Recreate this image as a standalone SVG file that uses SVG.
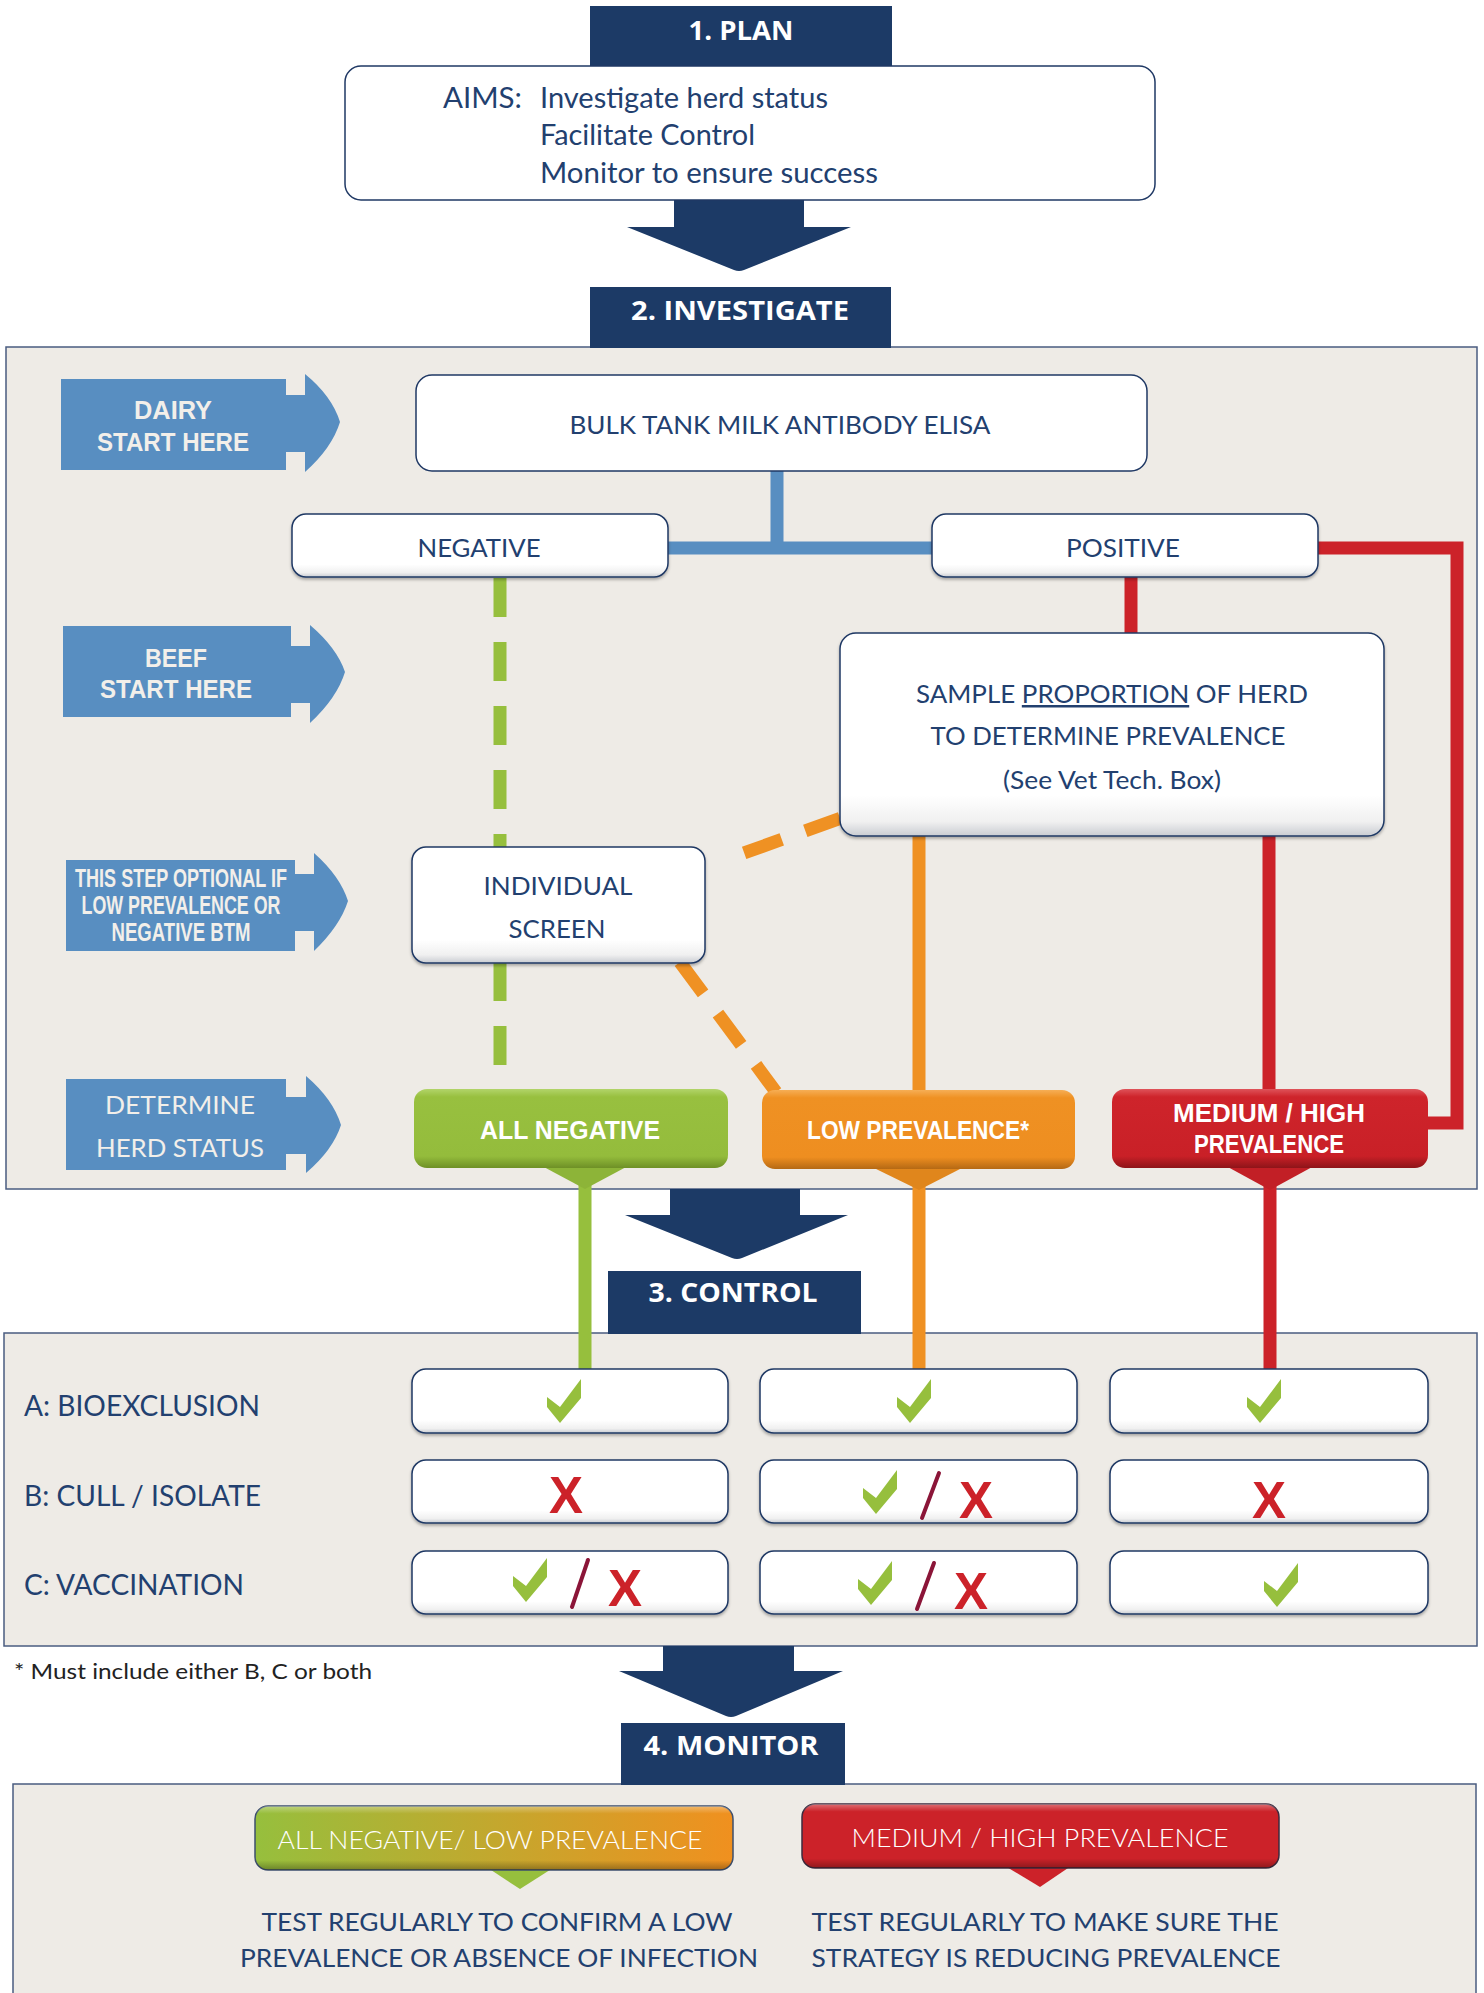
<svg xmlns="http://www.w3.org/2000/svg" width="1484" height="1993" viewBox="0 0 1484 1993">
<defs>
<style>
.hdr{fill:#1C3A66}
.hdrT{font-family:"Open Sans",Lato,sans-serif;font-weight:700;font-size:26px;fill:#fff;text-anchor:middle}
.panel{fill:#EEEBE6;stroke:#4A5C80;stroke-width:1.5}
.box{fill:url(#gw);stroke:#1F3864;stroke-width:1.5;filter:url(#sh)}
.t{font-family:Lato,"Open Sans",sans-serif;font-weight:400;fill:#22406F;text-anchor:middle;font-size:25px}
.ts{font-family:Lato,"Open Sans",sans-serif;font-weight:400;fill:#22406F;font-size:28px}
.tb{font-family:"Liberation Sans",Arial,sans-serif;font-weight:700;fill:#F2EFEA;text-anchor:middle;font-size:25px}
.tw{font-family:"Liberation Sans",Arial,sans-serif;font-weight:700;fill:#FFFFFF;text-anchor:middle;font-size:25px}
.tl{font-family:Lato,"Open Sans",sans-serif;font-weight:400;fill:#F2EFEA;text-anchor:middle;font-size:25px}
.tm{font-family:Lato,"Open Sans",sans-serif;font-weight:300;fill:#FFFFFF;text-anchor:middle;font-size:25px}
.barr{fill:#588EC1}
.navy{fill:#1C3A66}
.chk{fill:#96BF3D}
.xm{font-family:"Liberation Sans",Arial,sans-serif;font-weight:700;font-size:51px;fill:#CC2229;text-anchor:middle}
.sl{stroke:#8B1538;stroke-width:4;stroke-linecap:round}
</style>
<linearGradient id="gw" x1="0" y1="0" x2="0" y2="1">
<stop offset="0" stop-color="#FFFFFF"/><stop offset="0.8" stop-color="#FFFFFF"/><stop offset="0.93" stop-color="#F0F0F0"/><stop offset="1" stop-color="#C9CCD2"/>
</linearGradient>
<linearGradient id="gg" x1="0" y1="0" x2="0" y2="1">
<stop offset="0" stop-color="#B2D46A"/><stop offset="0.1" stop-color="#98C03F"/><stop offset="0.85" stop-color="#94BC3C"/><stop offset="1" stop-color="#6E9026"/>
</linearGradient>
<linearGradient id="go" x1="0" y1="0" x2="0" y2="1">
<stop offset="0" stop-color="#F6AE55"/><stop offset="0.1" stop-color="#EF9123"/><stop offset="0.85" stop-color="#EE8E20"/><stop offset="1" stop-color="#B56914"/>
</linearGradient>
<linearGradient id="gr" x1="0" y1="0" x2="0" y2="1">
<stop offset="0" stop-color="#DF535A"/><stop offset="0.1" stop-color="#CE242B"/><stop offset="0.85" stop-color="#C92027"/><stop offset="1" stop-color="#8E1419"/>
</linearGradient>
<linearGradient id="gmix" x1="0" y1="0" x2="1" y2="0">
<stop offset="0" stop-color="#96BF3D"/><stop offset="1" stop-color="#F0901F"/>
</linearGradient>
<linearGradient id="gshine" x1="0" y1="0" x2="0" y2="1">
<stop offset="0" stop-color="#FFFFFF" stop-opacity="0.35"/><stop offset="0.12" stop-color="#FFFFFF" stop-opacity="0"/><stop offset="0.85" stop-color="#000000" stop-opacity="0"/><stop offset="1" stop-color="#000000" stop-opacity="0.3"/>
</linearGradient>
<filter id="sh" x="-5%" y="-10%" width="110%" height="130%">
<feDropShadow dx="0" dy="2" stdDeviation="1.5" flood-color="#000" flood-opacity="0.3"/>
</filter>
<path id="chkP" d="M34,0 L34,19 L13,44 L0,28 L0,18 L13,28 Z"/>
</defs>

<rect width="1484" height="1993" fill="#FFFFFF"/>

<!-- panels -->
<rect class="panel" x="6" y="347" width="1471" height="842"/>
<rect class="panel" x="4" y="1333" width="1473" height="313"/>
<rect class="panel" x="13" y="1784" width="1463" height="230"/>

<!-- big navy arrows -->
<g id="arrow1"><path class="navy" d="M674,190 H804 V227 H851 L744,270 Q739,272 734,270 L627,227 H674 Z"/></g>
<g id="arrow2"><path class="navy" d="M670,1189 H800 V1215 H848 L742,1258 Q737,1260 732,1258 L625,1215 H670 Z"/></g>
<g id="arrow3"><path class="navy" d="M663,1646 H794 V1671 H843 L736,1716 Q731,1718 726,1716 L619,1671 H663 Z"/></g>

<!-- headers -->
<g id="plan">
<rect class="hdr" x="590" y="6" width="302" height="60"/>
<text class="hdrT" x="741" y="40" textLength="105" lengthAdjust="spacingAndGlyphs">1. PLAN</text>
</g>
<g id="aims">
<rect x="345" y="66" width="810" height="134" rx="16" fill="#FFFFFF" stroke="#1F3864" stroke-width="1.5"/>
<text class="ts" x="443" y="108" font-size="29" textLength="79" lengthAdjust="spacingAndGlyphs">AIMS:</text>
<text class="ts" x="540" y="108" font-size="29" textLength="288" lengthAdjust="spacingAndGlyphs">Investigate herd status</text>
<text class="ts" x="540" y="145" font-size="29" textLength="215" lengthAdjust="spacingAndGlyphs">Facilitate Control</text>
<text class="ts" x="540" y="183" font-size="29" textLength="338" lengthAdjust="spacingAndGlyphs">Monitor to ensure success</text>
</g>
<g id="investigate">
<rect class="hdr" x="590" y="287" width="301" height="61"/>
<text class="hdrT" x="740" y="320" textLength="218" lengthAdjust="spacingAndGlyphs">2. INVESTIGATE</text>
</g>
<g id="control">
<rect class="hdr" x="608" y="1271" width="253" height="63"/>
<text class="hdrT" x="733" y="1302" textLength="169" lengthAdjust="spacingAndGlyphs">3. CONTROL</text>
</g>
<g id="monitor">
<rect class="hdr" x="621" y="1723" width="224" height="62"/>
<text class="hdrT" x="731" y="1755" textLength="175" lengthAdjust="spacingAndGlyphs">4. MONITOR</text>
</g>

<!-- connectors -->
<g id="connectors" fill="none">
<path d="M777,470 V548 M668,548 H932" stroke="#588EC1" stroke-width="13"/>
<path d="M1318,548 H1457 V1123 H1428" stroke="#CC2229" stroke-width="13"/>
<path d="M1131,577 V634" stroke="#CC2229" stroke-width="13"/>
<path d="M1269,836 V1090" stroke="#CC2229" stroke-width="13"/>
<path d="M1270,1168 V1370" stroke="#CC2229" stroke-width="13"/>
<path d="M919,836 V1091" stroke="#EF9123" stroke-width="13"/>
<path d="M919,1168 V1370" stroke="#EF9123" stroke-width="13"/>
<path d="M585,1168 V1370" stroke="#96BF3D" stroke-width="13"/>
<path d="M500,578 V1066" stroke="#96BF3D" stroke-width="13" stroke-dasharray="39 25"/>
<path d="M858,812 L705,867" stroke="#EF9123" stroke-width="13" stroke-dasharray="0 19 37 25 40 60"/>
<path d="M668,946 L776,1092" stroke="#EF9123" stroke-width="13" stroke-dasharray="0 20 39 25 39 25 45"/>
</g>

<!-- blue side arrows -->
<g id="dairy">
<path class="barr" d="M61,379 H286 V395 H305 V374 Q332,396 340,422 Q332,448 305,472 V452 H286 V470 H61 Z"/>
<text class="tb" x="173" y="419" textLength="78" lengthAdjust="spacingAndGlyphs">DAIRY</text>
<text class="tb" x="173" y="451" textLength="152" lengthAdjust="spacingAndGlyphs">START HERE</text>
</g>
<g id="beef">
<path class="barr" d="M63,626 H291 V646 H310 V625 Q337,648 345,672 Q337,698 310,723 V703 H291 V717 H63 Z"/>
<text class="tb" x="176" y="667" textLength="62" lengthAdjust="spacingAndGlyphs">BEEF</text>
<text class="tb" x="176" y="698" textLength="152" lengthAdjust="spacingAndGlyphs">START HERE</text>
</g>
<g id="optional">
<path class="barr" d="M66,860 H295 V874 H314 V853 Q340,876 348,901 Q340,926 314,951 V931 H295 V951 H66 Z"/>
<text class="tb" x="181" y="887" font-size="18" textLength="212" lengthAdjust="spacingAndGlyphs">THIS STEP OPTIONAL IF</text>
<text class="tb" x="181" y="914" font-size="18" textLength="199" lengthAdjust="spacingAndGlyphs">LOW PREVALENCE OR</text>
<text class="tb" x="181" y="941" font-size="18" textLength="139" lengthAdjust="spacingAndGlyphs">NEGATIVE BTM</text>
</g>
<g id="determine">
<path class="barr" d="M66,1079 H286 V1097 H306 V1076 Q333,1099 341,1125 Q333,1150 306,1173 V1154 H286 V1170 H66 Z"/>
<text class="tl" x="180" y="1114" textLength="150" lengthAdjust="spacingAndGlyphs">DETERMINE</text>
<text class="tl" x="180" y="1157" textLength="168" lengthAdjust="spacingAndGlyphs">HERD STATUS</text>
</g>

<!-- investigate nodes -->
<g id="bulk">
<rect x="416" y="375" width="731" height="96" rx="16" fill="#FFFFFF" stroke="#1F3864" stroke-width="1.5"/>
<text class="t" x="780" y="434" textLength="421" lengthAdjust="spacingAndGlyphs">BULK TANK MILK ANTIBODY ELISA</text>
</g>
<g id="negative">
<rect class="box" x="292" y="514" width="376" height="63" rx="14"/>
<text class="t" x="479" y="557" textLength="123" lengthAdjust="spacingAndGlyphs">NEGATIVE</text>
</g>
<g id="positive">
<rect class="box" x="932" y="514" width="386" height="63" rx="14"/>
<text class="t" x="1123" y="557" textLength="114" lengthAdjust="spacingAndGlyphs">POSITIVE</text>
</g>
<g id="sample">
<rect class="box" x="840" y="633" width="544" height="203" rx="16"/>
<text class="t" x="1112" y="703" textLength="392" lengthAdjust="spacingAndGlyphs">SAMPLE <tspan style="text-decoration:underline">PROPORTION</tspan> OF HERD</text>
<text class="t" x="1108" y="745" textLength="355" lengthAdjust="spacingAndGlyphs">TO DETERMINE PREVALENCE</text>
<text class="t" x="1112" y="789" textLength="218" lengthAdjust="spacingAndGlyphs">(See Vet Tech. Box)</text>
</g>
<g id="individual">
<rect class="box" x="412" y="847" width="293" height="116" rx="14"/>
<text class="t" x="558" y="895" textLength="149" lengthAdjust="spacingAndGlyphs">INDIVIDUAL</text>
<text class="t" x="557" y="938" textLength="97" lengthAdjust="spacingAndGlyphs">SCREEN</text>
</g>
<g id="allneg">
<path d="M542,1166 H628 L585,1189 Z" fill="#8DB438"/>
<rect x="414" y="1089" width="314" height="79" rx="13" fill="url(#gg)"/>
<text class="tw" x="570" y="1139" textLength="180" lengthAdjust="spacingAndGlyphs">ALL NEGATIVE</text>
</g>
<g id="lowprev">
<path d="M874,1168 H962 L919,1190 Z" fill="#E0861C"/>
<rect x="762" y="1090" width="313" height="79" rx="13" fill="url(#go)"/>
<text class="tw" x="918" y="1139" font-size="22" textLength="222" lengthAdjust="spacingAndGlyphs">LOW PREVALENCE*</text>
</g>
<g id="medhigh">
<path d="M1226,1166 H1314 L1270,1190 Z" fill="#C21F26"/>
<rect x="1112" y="1089" width="316" height="79" rx="13" fill="url(#gr)"/>
<text class="tw" x="1269" y="1122" font-size="23" textLength="192" lengthAdjust="spacingAndGlyphs">MEDIUM / HIGH</text>
<text class="tw" x="1269" y="1153" font-size="23" textLength="150" lengthAdjust="spacingAndGlyphs">PREVALENCE</text>
</g>

<!-- control rows -->
<g id="labels">
<text class="ts" x="24" y="1416" textLength="236" lengthAdjust="spacingAndGlyphs">A: BIOEXCLUSION</text>
<text class="ts" x="24" y="1506" textLength="237" lengthAdjust="spacingAndGlyphs">B: CULL / ISOLATE</text>
<text class="ts" x="24" y="1595" textLength="220" lengthAdjust="spacingAndGlyphs">C: VACCINATION</text>
</g>
<g id="a1"><rect class="box" x="412" y="1369" width="316" height="64" rx="14"/><use href="#chkP" class="chk" x="547" y="1379"/></g>
<g id="a2"><rect class="box" x="760" y="1369" width="317" height="64" rx="14"/><use href="#chkP" class="chk" x="897" y="1379"/></g>
<g id="a3"><rect class="box" x="1110" y="1369" width="318" height="64" rx="14"/><use href="#chkP" class="chk" x="1247" y="1379"/></g>
<g id="b1"><rect class="box" x="412" y="1460" width="316" height="63" rx="14"/><text class="xm" x="566" y="1513">X</text></g>
<g id="b2"><rect class="box" x="760" y="1460" width="317" height="63" rx="14"/><use href="#chkP" class="chk" x="863" y="1470"/><line class="sl" x1="939" y1="1473" x2="922" y2="1518"/><text class="xm" x="976" y="1518">X</text></g>
<g id="b3"><rect class="box" x="1110" y="1460" width="318" height="63" rx="14"/><text class="xm" x="1269" y="1518">X</text></g>
<g id="c1"><rect class="box" x="412" y="1551" width="316" height="63" rx="14"/><use href="#chkP" class="chk" x="513" y="1558"/><line class="sl" x1="588" y1="1560" x2="572" y2="1607"/><text class="xm" x="625" y="1606">X</text></g>
<g id="c2"><rect class="box" x="760" y="1551" width="317" height="63" rx="14"/><use href="#chkP" class="chk" x="858" y="1561"/><line class="sl" x1="934" y1="1563" x2="917" y2="1609"/><text class="xm" x="971" y="1609">X</text></g>
<g id="c3"><rect class="box" x="1110" y="1551" width="318" height="63" rx="14"/><use href="#chkP" class="chk" x="1264" y="1563"/></g>

<g id="footnote">
<text x="14" y="1679" font-family="Lato, 'Open Sans', sans-serif" font-weight="400" font-size="21" fill="#222222" textLength="358" lengthAdjust="spacingAndGlyphs">* Must include either B, C or both</text>
</g>

<!-- monitor -->
<g id="mon-low">
<path d="M488,1868 H553 L520,1889 Z" fill="#96BF3D"/>
<rect x="255" y="1806" width="478" height="64" rx="13" fill="url(#gmix)" stroke="#3D4F6E" stroke-width="1.5"/>
<rect x="255" y="1806" width="478" height="64" rx="13" fill="url(#gshine)"/>
<text class="tm" x="490" y="1849" textLength="425" lengthAdjust="spacingAndGlyphs">ALL NEGATIVE/ LOW PREVALENCE</text>
<text class="t" x="497" y="1931" font-size="24" textLength="471" lengthAdjust="spacingAndGlyphs">TEST REGULARLY TO CONFIRM A LOW</text>
<text class="t" x="499" y="1967" font-size="24" textLength="518" lengthAdjust="spacingAndGlyphs">PREVALENCE OR ABSENCE OF INFECTION</text>
</g>
<g id="mon-high">
<path d="M1005,1866 H1071 L1040,1887 Z" fill="#CC2229"/>
<rect x="802" y="1804" width="477" height="64" rx="13" fill="#CC2229" stroke="#3D2A3E" stroke-width="1.5"/>
<rect x="802" y="1804" width="477" height="64" rx="13" fill="url(#gshine)"/>
<text class="tm" x="1040" y="1847" textLength="377" lengthAdjust="spacingAndGlyphs">MEDIUM / HIGH PREVALENCE</text>
<text class="t" x="1045" y="1931" font-size="24" textLength="467" lengthAdjust="spacingAndGlyphs">TEST REGULARLY TO MAKE SURE THE</text>
<text class="t" x="1046" y="1967" font-size="24" textLength="469" lengthAdjust="spacingAndGlyphs">STRATEGY IS REDUCING PREVALENCE</text>
</g>
</svg>
